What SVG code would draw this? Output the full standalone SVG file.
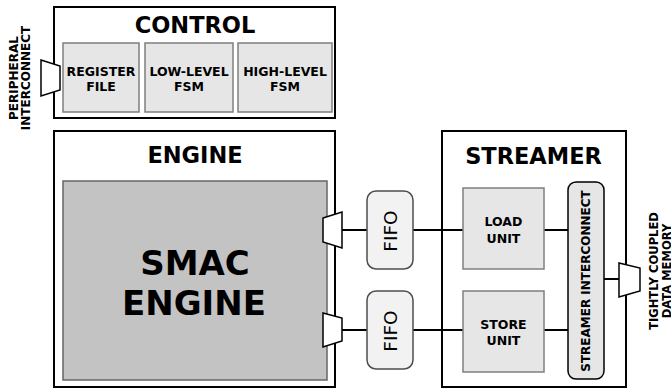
<svg xmlns="http://www.w3.org/2000/svg" width="671" height="390" viewBox="0 0 671 390">
<style>
text{font-family:"DejaVu Sans","Liberation Sans",sans-serif;fill:#000;text-anchor:middle}
.b{font-weight:bold}
.outer{fill:#fff;stroke:#000;stroke-width:2}
.sub{fill:#e6e6e6;stroke:#7f7f7f;stroke-width:1.5}
.fifo{fill:#f2f2f2;stroke:#4d4d4d;stroke-width:1.5}
.port{fill:#fff;stroke:#000;stroke-width:1.5;stroke-linejoin:miter}
.wire{stroke:#000;stroke-width:2;fill:none}
.title{font-size:22.5px;font-weight:bold}
.lbl{font-size:12.5px;font-weight:bold}
.side{font-size:12px;font-weight:bold}
</style>
<g id="control">
<rect class="outer" x="54" y="7" width="281" height="111"/>
<text class="title" x="195" y="33">CONTROL</text>
</g>
<g id="register-file">
<rect class="sub" x="63" y="43" width="76" height="69"/>
<text class="lbl" x="101" y="76">REGISTER</text>
<text class="lbl" x="101" y="90.5">FILE</text>
</g>
<g id="low-level-fsm">
<rect class="sub" x="145" y="43" width="88" height="69"/>
<text class="lbl" x="189" y="76">LOW-LEVEL</text>
<text class="lbl" x="189" y="90.5">FSM</text>
</g>
<g id="high-level-fsm">
<rect class="sub" x="238" y="43" width="94" height="69"/>
<text class="lbl" x="285" y="76">HIGH-LEVEL</text>
<text class="lbl" x="285" y="90.5">FSM</text>
</g>
<g id="peripheral-port">
<polygon class="port" points="41,60 60,66 60,90 41,96"/>
<text class="side" transform="translate(18,78) rotate(-90)">PERIPHERAL</text>
<text class="side" transform="translate(29.5,78) rotate(-90)">INTERCONNECT</text>
</g>
<g id="engine">
<rect class="outer" x="54" y="131" width="281" height="256"/>
<text class="title" x="195" y="162.5">ENGINE</text>
</g>
<g id="smac-engine">
<rect x="63" y="181" width="264" height="199" fill="#c3c3c3" stroke="#666" stroke-width="1.5"/>
<text class="b" font-size="34" x="195" y="274.5">SMAC</text>
<text class="b" font-size="34" x="194" y="315">ENGINE</text>
</g>
<g id="streamer">
<rect class="outer" x="442" y="131" width="184" height="256"/>
<text class="title" x="533.5" y="163.5">STREAMER</text>
</g>
<g id="connectors">
<line class="wire" x1="342" y1="230" x2="367" y2="230"/>
<line class="wire" x1="413" y1="230" x2="463" y2="230"/>
<line class="wire" x1="544" y1="230" x2="568" y2="230"/>
<line class="wire" x1="342" y1="330" x2="367" y2="330"/>
<line class="wire" x1="413" y1="330" x2="463" y2="330"/>
<line class="wire" x1="544" y1="330" x2="568" y2="330"/>
<line class="wire" x1="604" y1="279" x2="619" y2="279"/>
</g>
<g id="engine-port-in">
<polygon class="port" points="323,218 342,212 342,248 323,242"/>
</g>
<g id="engine-port-out">
<polygon class="port" points="323,313 342,318 342,341 323,347"/>
</g>
<g id="fifo-load">
<rect class="fifo" x="367" y="191" width="46" height="78" rx="9"/>
<text font-size="18.5" transform="translate(396.5,231) rotate(-90)">FIFO</text>
</g>
<g id="fifo-store">
<rect class="fifo" x="367" y="291" width="46" height="78" rx="9"/>
<text font-size="18.5" transform="translate(396.5,331) rotate(-90)">FIFO</text>
</g>
<g id="load-unit">
<rect class="sub" x="463" y="188" width="81" height="81"/>
<text class="lbl" x="503.5" y="226">LOAD</text>
<text class="lbl" x="503.5" y="242.5">UNIT</text>
</g>
<g id="store-unit">
<rect class="sub" x="463" y="291" width="81" height="81"/>
<text class="lbl" x="503.5" y="328.5">STORE</text>
<text class="lbl" x="503.5" y="345">UNIT</text>
</g>
<g id="streamer-interconnect">
<rect x="568" y="182" width="36" height="197" rx="8" fill="#e6e6e6" stroke="#000" stroke-width="1.5"/>
<text class="side" transform="translate(590,281) rotate(-90)">STREAMER INTERCONNECT</text>
</g>
<g id="memory-port">
<polygon class="port" points="619,263 640,268 640,291 619,297"/>
<text class="b" font-size="11.5" transform="translate(657.5,271) rotate(-90)">TIGHTLY COUPLED</text>
<text class="b" font-size="11.5" transform="translate(670.5,271) rotate(-90)">DATA MEMORY</text>
</g>
</svg>
